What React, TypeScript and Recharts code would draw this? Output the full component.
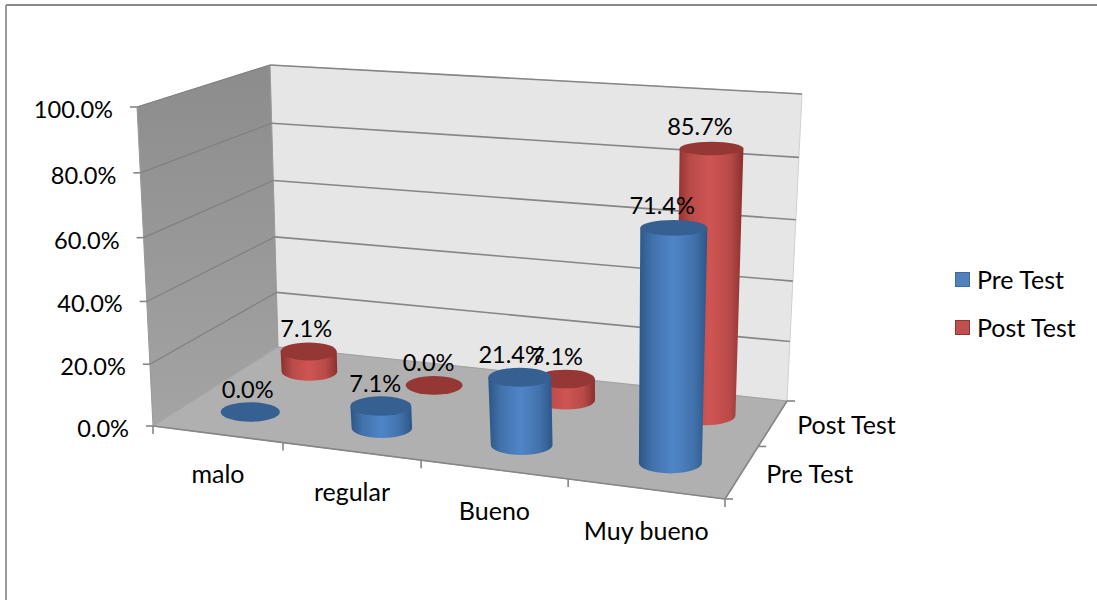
import React from 'react';
import { BarChart, Bar, XAxis, YAxis, Legend, LabelList, Customized } from 'recharts';

const categories = ['malo', 'regular', 'Bueno', 'Muy bueno'];
const preTest = [0, 7.1, 21.4, 71.4];
const postTest = [7.1, 0, 7.1, 85.7];
const yTicks = [0, 20, 40, 60, 80, 100];
const depthLabels = ['Pre Test', 'Post Test'];
const data = categories.map((name, i) => ({ name, pre: preTest[i], post: postTest[i] }));

const W = 1097, H = 600;
const M = { left: 100, right: 100, top: 100, bottom: 100 };
const PW = W - M.left - M.right, PH = H - M.top - M.bottom;
const FONT = 'Lato, Carlito, Calibri, sans-serif';
const FS = 23.6;
const FST = 25;
const DEPTH = { pre: 0.25, post: 0.75 };

type Pt = [number, number];
function homography(p: Pt[]) {
  const [p0, p1, p2, p3] = p;
  const dx1 = p1[0] - p2[0], dx2 = p3[0] - p2[0], dx3 = p0[0] - p1[0] + p2[0] - p3[0];
  const dy1 = p1[1] - p2[1], dy2 = p3[1] - p2[1], dy3 = p0[1] - p1[1] + p2[1] - p3[1];
  const den = dx1 * dy2 - dx2 * dy1;
  const g = (dx3 * dy2 - dx2 * dy3) / den;
  const h = (dx1 * dy3 - dx3 * dy1) / den;
  const a = p1[0] - p0[0] + g * p1[0], b = p3[0] - p0[0] + h * p3[0], c = p0[0];
  const d = p1[1] - p0[1] + g * p1[1], e = p3[1] - p0[1] + h * p3[1], f = p0[1];
  return (u: number, w: number): Pt => {
    const q = g * u + h * w + 1;
    return [(a * u + b * w + c) / q, (d * u + e * w + f) / q];
  };
}
// box corners: front-left, front-right, back-right, back-left
const floor = homography([[153, 426], [725, 499], [787, 401], [278, 347]]);
const ceil = homography([[137, 107], [739, 152], [802, 94], [270, 65]]);
function project(u: number, w: number, v: number): Pt {
  const a = floor(u, w), b = ceil(u, w);
  const t = v - 0.04 * v * (1 - v);
  return [a[0] + (b[0] - a[0]) * t, a[1] + (b[1] - a[1]) * t];
}
const poly = (pts: Pt[]) => pts.map((p) => p.map((n) => n.toFixed(1)).join(',')).join(' ');

function Gradient({ id, edge, inner, mid }: { id: string; edge: string; inner: string; mid: string }) {
  return (
    <linearGradient id={id} x1="0" y1="0" x2="1" y2="0">
      <stop offset="0" stopColor={edge} />
      <stop offset="0.2" stopColor={inner} />
      <stop offset="0.5" stopColor={mid} />
      <stop offset="0.8" stopColor={inner} />
      <stop offset="1" stopColor={edge} />
    </linearGradient>
  );
}

function Room() {
  const grid = '#868686';
  return (
    <g>
      <defs>
        <Gradient id="cylBlue" edge="#2c5687" inner="#4272ab" mid="#4f85c8" />
        <Gradient id="cylRed" edge="#8a302e" inner="#b84a48" mid="#cf5553" />
        <linearGradient id="leftWall" x1="0" y1="0" x2="0" y2="1">
          <stop offset="0" stopColor="#8c8c8c" />
          <stop offset="1" stopColor="#a4a4a4" />
        </linearGradient>
      </defs>
      <line x1={6} y1={5} x2={W} y2={5} stroke="#888" strokeWidth={2} />
      <line x1={6} y1={5} x2={6} y2={H} stroke="#999" strokeWidth={2} />
      <polygon points={poly([project(0, 1, 0), project(1, 1, 0), project(1, 1, 1), project(0, 1, 1)])} fill="#e6e6e6" stroke="#d0d0d0" />
      <polygon points={poly([project(0, 0, 0), project(0, 1, 0), project(0, 1, 1), project(0, 0, 1)])} fill="url(#leftWall)" stroke="#999" />
      <polygon points={poly([project(0, 0, 0), project(1, 0, 0), project(1, 1, 0), project(0, 1, 0)])} fill="#b0b0b0" stroke="#a0a0a0" />
      {yTicks.map((t) => {
        const v = t / 100;
        const f = project(0, 0, v), m = project(0, 1, v), r = project(1, 1, v);
        return (
          <g key={t}>
            {t > 0 && <line x1={m[0]} y1={m[1]} x2={r[0]} y2={r[1]} stroke={grid} strokeWidth={1.6} />}
            <line x1={f[0]} y1={f[1]} x2={m[0]} y2={m[1]} stroke={t === 0 ? '#a8a8a8' : '#808080'} strokeWidth={1.2} />
            <line x1={f[0] - 7} y1={f[1]} x2={f[0]} y2={f[1]} stroke={grid} strokeWidth={1.6} />
          </g>
        );
      })}
      {[0, 1, 2, 3, 4].map((i) => {
        const p = project(i / 4, 0, 0);
        return <line key={i} x1={p[0]} y1={p[1]} x2={p[0]} y2={p[1] + 8} stroke={grid} strokeWidth={1.6} />;
      })}
      {[0, 0.5, 1].map((w) => {
        const p = project(1, w, 0);
        return <line key={w} x1={p[0]} y1={p[1]} x2={p[0] + 8} y2={p[1]} stroke={grid} strokeWidth={1.6} />;
      })}
      <line x1={project(0, 0, 0)[0]} y1={project(0, 0, 0)[1]} x2={project(1, 0, 0)[0]} y2={project(1, 0, 0)[1]} stroke={grid} strokeWidth={1.6} />
      <line x1={project(1, 0, 0)[0]} y1={project(1, 0, 0)[1]} x2={project(1, 1, 0)[0]} y2={project(1, 1, 0)[1]} stroke={grid} strokeWidth={1.6} />
      {depthLabels.map((s, i) => {
        const p = project(1, i === 0 ? DEPTH.pre : DEPTH.post, 0);
        return (
          <text key={s} x={p[0] + 24} y={p[1] + 11} fontFamily={FONT} fontSize={FST} fill="#000">{s}</text>
        );
      })}
    </g>
  );
}

const toU = (x: number, width: number) => ((x + width / 2 - M.left) / PW) * 1.01;
const toV = (y: number) => (M.top + PH - y) / PH;

function cylinderShape(depth: number, bodyFill: string, capFill: string) {
  return function Cylinder(props: any) {
    const { x, y, width } = props;
    const u = toU(x, width);
    const v = toV(y);
    const ellipse = (vv: number) => {
      const c = project(u, depth, vv);
      const rx = (29.3 + 2.5 * u) * (1 - (depth - 0.25) * 0.12) * (1 + 0.09 * vv);
      return { cx: c[0], cy: c[1], rx, ry: rx * (0.33 - 0.135 * vv) };
    };
    const top = ellipse(v), bot = ellipse(0);
    const d = `M${top.cx - top.rx},${top.cy} L${bot.cx - bot.rx},${bot.cy} A${bot.rx},${bot.ry} 0 0 0 ${bot.cx + bot.rx},${bot.cy} L${top.cx + top.rx},${top.cy} Z`;
    return (
      <g>
        {v > 0.001 && <path d={d} fill={bodyFill} />}
        <ellipse cx={top.cx} cy={top.cy} rx={top.rx} ry={top.ry} fill={capFill} />
      </g>
    );
  };
}

function labelContent(depth: number) {
  return function CylLabel(props: any) {
    const { x, y, width, value } = props;
    const u = toU(x, width);
    const c = project(u, depth, toV(y));
    return (
      <text x={c[0] - 1 - 12 * u} y={c[1] - 14} textAnchor="middle" fontFamily={FONT} fontSize={FS} fill="#000">
        {Number(value).toFixed(1)}%
      </text>
    );
  };
}

function YTick(props: any) {
  const v = props.payload.value;
  const p = project(0, 0, v / 100);
  return (
    <text x={p[0] - 24} y={p[1] + 11} textAnchor="end" fontFamily={FONT} fontSize={FS} fill="#000">
      {v.toFixed(1)}%
    </text>
  );
}

function XTick(props: any) {
  const u = (props.payload.coordinate - M.left) / PW;
  const p = project(u, 0, 0);
  return (
    <text x={p[0] + 1} y={p[1] + 49 + 2 * u} textAnchor="middle" fontFamily={FONT} fontSize={FST} fill="#000">
      {props.payload.value}
    </text>
  );
}

function LegendBox({ payload }: any) {
  const items = [...(payload || [])].sort((a: any, b: any) => depthLabels.indexOf(a.value) - depthLabels.indexOf(b.value));
  return (
    <div style={{ fontFamily: FONT, fontSize: FST, color: '#000', lineHeight: '48px' }}>
      {items.map((e: any) => (
        <div key={e.value} style={{ display: 'flex', alignItems: 'center', height: 48 }}>
          <span style={{ width: 13, height: 13, background: e.color, border: `1.5px solid ${e.value === 'Pre Test' ? '#3a6a9f' : '#8f3432'}`, marginRight: 7, display: 'inline-block' }} />
          <span>{e.value}</span>
        </div>
      ))}
    </div>
  );
}

export default function App() {
  return (
    <div style={{ position: 'absolute', left: 0, top: 0, width: W, height: H, background: '#fff' }}>
      <BarChart width={W} height={H} data={data} margin={{ ...M, left: M.left - 1, bottom: M.bottom - 1 }} barCategoryGap="10%">
        <Customized component={Room} />
        <XAxis xAxisId="a" dataKey="name" height={1} axisLine={false} tickLine={false} interval={0} tick={<XTick />} padding={{ left: 0, right: 0 }} />
        <XAxis xAxisId="b" dataKey="name" height={0} hide />
        <YAxis type="number" domain={[0, 100]} ticks={yTicks} width={1} axisLine={false} tickLine={false} interval={0} tick={<YTick />} />
        <Legend content={<LegendBox />} layout="vertical" align="center" verticalAlign="middle" wrapperStyle={{ position: 'absolute', left: 955, top: 255, width: 140 }} />
        <Bar xAxisId="b" dataKey="post" name="Post Test" fill="#c0504d" isAnimationActive={false} shape={cylinderShape(DEPTH.post, 'url(#cylRed)', '#953735')}>
          <LabelList dataKey="post" content={labelContent(DEPTH.post)} />
        </Bar>
        <Bar xAxisId="a" dataKey="pre" name="Pre Test" fill="#4f81bd" isAnimationActive={false} shape={cylinderShape(DEPTH.pre, 'url(#cylBlue)', '#376092')}>
          <LabelList dataKey="pre" content={labelContent(DEPTH.pre)} />
        </Bar>
      </BarChart>
    </div>
  );
}
